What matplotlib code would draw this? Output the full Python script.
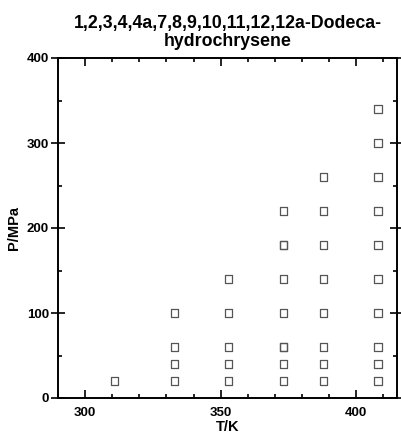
import matplotlib
matplotlib.use("Agg")
from matplotlib import pyplot as plt
from matplotlib.ticker import MultipleLocator

plt.rcParams['font.family'] = ['Liberation Sans', 'DejaVu Sans']
plt.rcParams['font.weight'] = 'bold'

# measured (T, P) grid, one list of pressures per isotherm
temps = [311, 333, 353, 373, 388, 408]
p_311 = [20]
p_333 = [20, 40, 60, 100]
p_353 = [20, 40, 60, 100, 140]
p_373 = [20, 40, 60, 60, 100, 140, 180, 180, 220]
p_388 = [20, 40, 60, 100, 140, 180, 220, 260]
p_408 = [20, 40, 60, 100, 140, 180, 220, 260, 300, 340]
pressures = [p_311, p_333, p_353, p_373, p_388, p_408]

fig = plt.figure(figsize=(4.02, 4.33), dpi=100)
ax = fig.add_axes([58/402, 1 - 398/433, 339/402, 340/433])

for t, ps in zip(temps, pressures):
    ax.scatter([t]*len(ps), ps, marker='s', s=26, facecolors='none',
               edgecolors='#555555', linewidths=0.9, zorder=3)

ax.set_xlim(290, 415)
ax.set_ylim(0, 400)
ax.xaxis.set_major_locator(MultipleLocator(50))
ax.xaxis.set_minor_locator(MultipleLocator(10))
ax.yaxis.set_major_locator(MultipleLocator(100))
ax.yaxis.set_minor_locator(MultipleLocator(50))

for s in ax.spines.values():
    s.set_linewidth(1.4)

ax.tick_params(which='both', direction='in', top=True, right=True,
               labelsize=9.5, width=1.2)
ax.tick_params(which='major', length=6)
ax.tick_params(which='minor', length=3)
ax.tick_params(axis='x', which='major', pad=6.5)
ax.tick_params(axis='y', which='major', direction='inout', length=10, pad=1.5)
for lab in ax.get_xticklabels() + ax.get_yticklabels():
    lab.set_fontweight('bold')

ax.set_xlabel('T/K', fontsize=10.5, fontweight='bold', labelpad=0.5)
ax.set_ylabel('P/MPa', fontsize=10.5, fontweight='bold', labelpad=4)
ax.set_title('1,2,3,4,4a,7,8,9,10,11,12,12a-Dodeca-\nhydrochrysene',
             fontsize=12.8, fontweight='bold', linespacing=1.02, pad=9)

fig.savefig('out.png', dpi=100)
